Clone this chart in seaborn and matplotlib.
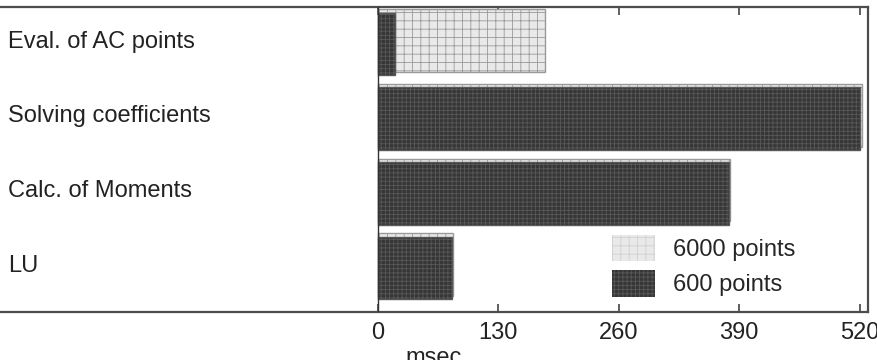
import numpy as np
import pandas as pd
import seaborn as sns
import matplotlib
matplotlib.use("Agg")
import matplotlib.pyplot as plt
from matplotlib.patches import Patch
import matplotlib.transforms as mtransforms

categories = ["Eval. of AC points", "Solving coefficients", "Calc. of Moments", "LU"]
points_6000 = [180, 522, 380, 81]
points_600 = [18, 520, 379, 80]
series_labels = ["6000 points", "600 points"]
xticks = [0, 130, 260, 390, 520]
xlabel = "msec"

sns.set_style("white")
plt.rcParams["font.family"] = ["Liberation Sans", "DejaVu Sans"]
plt.rcParams["hatch.linewidth"] = 0.6

FS = 17
light_style = dict(color="#e9e9e9", edgecolor="#9a9a9a", hatch="++", linewidth=1.0)
dark_style = dict(color="#363636", edgecolor="#585858", hatch="++++", linewidth=1.0)

fig = plt.figure(figsize=(8.78, 3.6), dpi=100)
ax = fig.add_axes([0, 48 / 360, 868 / 878, 305 / 360])

pos = np.arange(len(categories))
df_light = pd.DataFrame({"value": points_6000, "pos": pos - 0.045})
df_dark = pd.DataFrame({"value": points_600, "pos": pos + 0.0})

sns.barplot(data=df_light, x="value", y="pos", orient="h", native_scale=True,
            width=0.84, saturation=1, errorbar=None, ax=ax, zorder=2, **light_style)
sns.barplot(data=df_dark, x="value", y="pos", orient="h", native_scale=True,
            width=0.84, saturation=1, errorbar=None, ax=ax, zorder=3, **dark_style)

ax.set_xlim(-408, 529)
ax.set_ylim(3.59, -0.495)
ax.set_yticks([])
ax.set_ylabel("")
ax.set_xlabel("")
ax.set_xticks(xticks)
ax.set_xticklabels([str(t) for t in xticks])
ax.tick_params(axis="x", direction="in", top=True, bottom=True, length=6,
               width=1.2, color="#444444", labelsize=FS, pad=7, labelcolor="#222222")

for side in ["top", "bottom", "right"]:
    ax.spines[side].set_visible(True)
    ax.spines[side].set_color("#4d4d4d")
    ax.spines[side].set_linewidth(1.6)
ax.spines["left"].set_visible(False)
ax.axvline(0, color="#333333", lw=1.0, zorder=4)

trans = mtransforms.blended_transform_factory(ax.transAxes, ax.transData)
for i, lab in enumerate(categories):
    ax.text(8 / 868, i - 0.03, lab, transform=trans, ha="left", va="center",
            fontsize=FS, color="#222222")

handles = [Patch(facecolor=light_style["color"], edgecolor="#d0d0d0", hatch="++", linewidth=0),
           Patch(facecolor=dark_style["color"], edgecolor="#585858", hatch="++++", linewidth=0)]
ax.legend(handles, series_labels, loc="upper left", bbox_to_anchor=(612 / 878, 1 - 235 / 360),
          bbox_transform=fig.transFigure, frameon=False, fontsize=FS, borderpad=0,
          handlelength=1.82, handleheight=1.32, labelspacing=0.4, handletextpad=0.75,
          borderaxespad=0)

fig.text(405 / 878, -4 / 360, xlabel, ha="left", va="baseline", fontsize=FS, color="#222222")

fig.savefig("out.png", dpi=100)
